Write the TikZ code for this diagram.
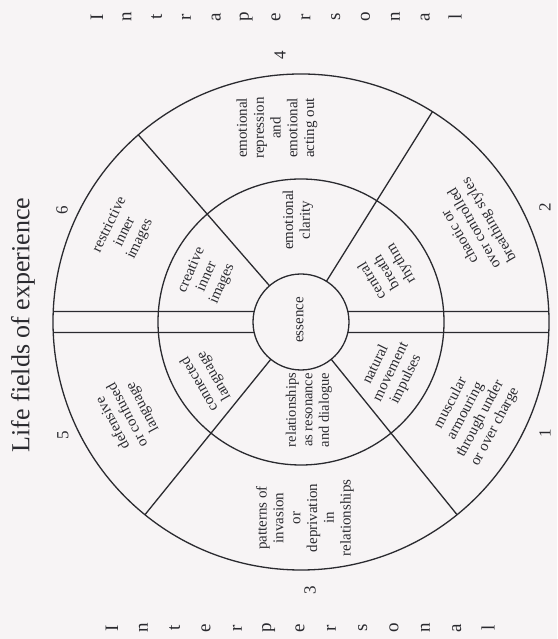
\documentclass[tikz,border=0pt]{standalone}
\usepackage{fontspec}
\setmainfont{Liberation Serif}
\usetikzlibrary{calc}
\definecolor{ink}{HTML}{2A2A2F}
\definecolor{paper}{HTML}{F7F4F5}
\begin{document}
\begin{tikzpicture}[x=1pt,y=1pt,
  ring/.style={draw=ink, line width=1.3pt, circle, inner sep=0pt, outer sep=0pt},
  cell/.style={align=center, font=\fontsize{15}{16.8}\selectfont, text=ink, inner sep=0pt},
  numlab/.style={font=\fontsize{17}{17}\selectfont, text=ink, rotate=90, inner sep=0pt},
  letter/.style={font=\fontsize{19}{19}\selectfont, text=ink, rotate=90, inner sep=0pt},
  spoke/.style={draw=ink, line width=1.3pt}]
\fill[paper] (0,0) rectangle (557,639);
\useasboundingbox (0,0) rectangle (557,639);
\coordinate (c) at (301,317);
\node[ring, minimum size=496pt] (outer) at (c) {};
\node[ring, minimum size=286pt] (mid) at (c) {};
\node[ring, minimum size=96pt] (core) at (c) {};
% diagonal spokes
\foreach \a in {58,131,231,309} \draw[spoke] (outer.\a) -- (core.\a);
% double horizontal lines
\coordinate (oR1) at ($(c)+(2.43:248)$);
\coordinate (oR2) at ($(c)+(-2.43:248)$);
\coordinate (oL1) at ($(c)+(177.57:248)$);
\coordinate (oL2) at ($(c)+(182.43:248)$);
\coordinate (iR1) at ($(c)+(12.64:48)$);
\coordinate (iR2) at ($(c)+(-12.64:48)$);
\coordinate (iL1) at ($(c)+(167.36:48)$);
\coordinate (iL2) at ($(c)+(192.64:48)$);
\draw[spoke] (oR1) -- (iR1);
\draw[spoke] (oR2) -- (iR2);
\draw[spoke] (oL1) -- (iL1);
\draw[spoke] (oL2) -- (iL2);
% cell texts
\node[cell, rotate=90] (t4) at (277,511) {emotional\\repression\\and\\emotional\\acting out};
\node[cell, rotate=64] (t6) at (125,407) {restrictive\\inner\\images};
\node[cell, rotate=66] (m6) at (207,362) {creative\\inner\\images};
\node[cell, rotate=90] (m4) at (298,419) {emotional\\clarity};
\node[cell, rotate=121] (m2) at (387,367) {central\\breath\\rhythm};
\node[cell, rotate=120] (t2) at (475,411) {chaotic or\\over controlled\\breathing styles};
\node[cell, rotate=90] (ess) at (300,319) {essence};
\node[cell, rotate=64] (m1) at (391,267) {natural\\movement\\impulses};
\node[cell, rotate=62] (t1) at (473,224) {muscular\\armouring\\through under\\or over charge};
\node[cell, rotate=90, font=\fontsize{14.5}{16.5}\selectfont] (m3) at (309,229) {relationships\\as resonance\\and dialogue};
\node[cell, rotate=90] (t3) at (305,121) {patterns of\\invasion\\or\\deprivation\\in\\relationships};
\node[cell, rotate=118] (t5) at (128,224) {defensive\\or confused\\language};
\node[cell, rotate=120] (m5) at (207,259) {connected\\language};
% numbers
\node[numlab] (n4) at (280,584) {4};
\node[numlab] (n6) at (62,429) {6};
\node[numlab] (n5) at (63,204) {5};
\node[numlab] (n3) at (310,49) {3};
\node[numlab] (n2) at (545,432) {2};
\node[numlab] (n1) at (545,206) {1};
% title
\node[font=\fontsize{26}{26}\selectfont, text=ink, rotate=90, inner sep=0pt] (title) at (23,314) {Life fields of experience};
% side words
\foreach \ch [count=\i from 0] in {I,n,t,r,a,p,e,r,s,o,n,a,l}
  \node[letter] (intra\i) at (97+\i*29.83,622) {\ch};
\foreach \ch [count=\i from 0] in {I,n,t,e,r,p,e,r,s,o,n,a,l}
  \node[letter] (inter\i) at (112+\i*31.33,11) {\ch};
\end{tikzpicture}
\end{document}
